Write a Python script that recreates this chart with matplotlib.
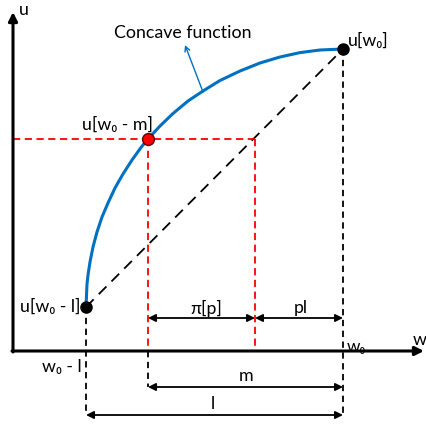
import matplotlib
matplotlib.use('Agg')
import matplotlib.pyplot as plt

plt.rcParams['font.family'] = ['Lato', 'DejaVu Sans']

# positions on the w axis
w_lo = 73      # w0 - l
w_m = 135      # w0 - m
w_p = 242      # certainty point
w0 = 330

# utility levels
u_lo = 44
u_m = 212
u_top = 302

# concave curve
curve_w = [73, 74, 75, 77, 80, 84, 89, 95, 102, 110, 119, 128, 135,
           147, 160, 175, 190, 207, 227, 247, 267, 287, 307, 330]
curve_u = [44, 66.8, 76, 89, 104, 119, 134, 148, 163, 177, 191, 203.5, 212,
           225, 237.5, 250, 260, 270.5, 280, 288, 294, 298.4, 301, 302]

blue = '#0070C0'
red = '#FF0000'
fs = 12.8

fig = plt.figure(figsize=(4.27, 4.25), dpi=100)
ax = fig.add_axes([0, 0, 1, 1])
ax.set_xlim(-13, 414)
ax.set_ylim(-74, 351)
ax.axis('off')

# axes with arrows
ax.annotate('', xy=(0, 339), xytext=(0, -1),
            arrowprops=dict(arrowstyle='-|>', lw=2.2, color='k', mutation_scale=13,
                            shrinkA=0, shrinkB=0))
ax.annotate('', xy=(411, 0), xytext=(-1, 0),
            arrowprops=dict(arrowstyle='-|>', lw=2.2, color='k', mutation_scale=13,
                            shrinkA=0, shrinkB=0))

# chord
ax.plot([w_lo, w0], [u_lo, u_top], color='k', lw=1.3, ls=(0, (6, 4)))

# red guides
ax.plot([0, w_p], [u_m, u_m], color=red, lw=1.3, ls=(0, (4, 2.5)))
ax.plot([w_m, w_m], [u_m, 0], color=red, lw=1.3, ls=(0, (4, 2.5)))
ax.plot([w_p, w_p], [u_m, 0], color=red, lw=1.3, ls=(0, (4, 2.5)))

# black vertical guides
ax.plot([w_lo, w_lo], [u_lo, -64], color='k', lw=1.3, ls=(0, (3.5, 2.5)))
ax.plot([w0, w0], [u_top, -64], color='k', lw=1.3, ls=(0, (3.5, 2.5)))
ax.plot([w_m, w_m], [0, -36], color='k', lw=1.3, ls=(0, (3.5, 2.5)))

# concave function
ax.plot(curve_w, curve_u, color=blue, lw=2.2, solid_capstyle='round',
        solid_joinstyle='round')

# points
ax.plot([w_lo, w0], [u_lo, u_top], 'o', color='k', ms=8)
ax.plot([w_m], [u_m], 'o', color=red, mec='#600000', mew=1, ms=8.5)

# dimension arrows
def dim(x1, x2, y):
    ax.annotate('', xy=(x2, y), xytext=(x1, y),
                arrowprops=dict(arrowstyle='<|-|>', lw=1.3, color='k', mutation_scale=11,
                                shrinkA=0, shrinkB=0))

dim(w_m, w_p, 33)
dim(w_p, w0, 33)
dim(w_m, w0, -36)
dim(w_lo, w0, -64)

# annotation of the curve
ax.annotate('', xy=(172, 306), xytext=(190, 259),
            arrowprops=dict(arrowstyle='->', lw=1.0, color=blue, mutation_scale=9,
                            shrinkA=0, shrinkB=0))

# labels
ax.text(6, 341, 'u', fontsize=fs, ha='left', va='center')
ax.text(400, 11, 'w', fontsize=fs, ha='left', va='center')
ax.text(334, -1, 'w\u2080', fontsize=fs - 0.5, ha='left', va='baseline', zorder=5)
ax.text(335, 310, 'u[w\u2080]', fontsize=fs, ha='left', va='center')
ax.text(105, 226, 'u[w\u2080 - m]', fontsize=fs, ha='center', va='center')
ax.text(68, 44, 'u[w\u2080 - l]', fontsize=fs, ha='right', va='center')
ax.text(69, -16, 'w\u2080 - l', fontsize=fs, ha='right', va='center')
ax.text(193, 43, '\u03c0[p]', fontsize=fs, ha='center', va='center')
ax.text(288, 43, 'pl', fontsize=fs, ha='center', va='center')
ax.text(233, -25, 'm', fontsize=fs, ha='center', va='center')
ax.text(200, -53, 'l', fontsize=fs, ha='center', va='center')
ax.text(170, 318, 'Concave function', fontsize=fs, ha='center', va='center')

fig.savefig('out.png', dpi=100)
